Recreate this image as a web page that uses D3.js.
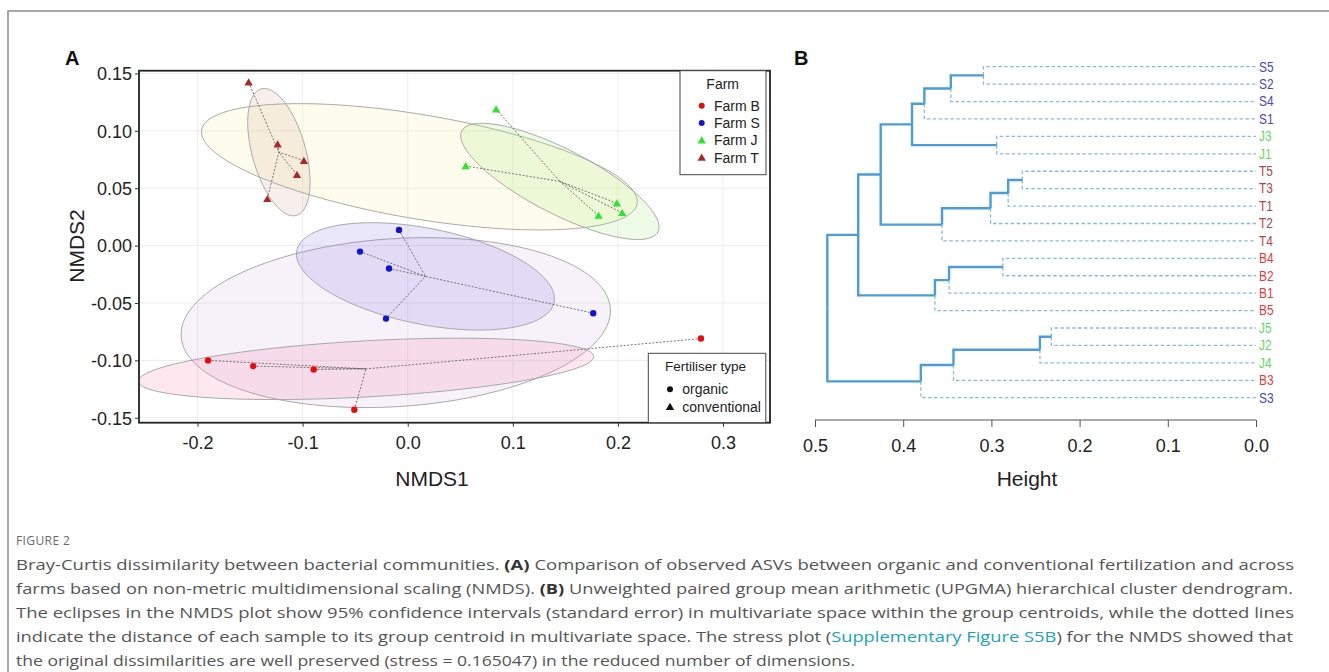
<!DOCTYPE html>
<html>
<head>
<meta charset="utf-8">
<script src="https://cdn.jsdelivr.net/npm/d3@7"></script>
<style>
body { margin: 0; background: #fff; }
svg { display: block; font-family: "Liberation Sans", Arial, sans-serif; }
</style>
</head>
<body>
<div id="fig"></div>
<script>
// ---------- panel A: NMDS scores ----------
var farmNames = ["Farm B", "Farm S", "Farm J", "Farm T"];
var farmColors = ["#e60d0d", "#1515c8", "#2ee32e", "#a32b2b"];
var farmFert = ["organic", "organic", "conventional", "conventional"];

var farmB = [[-0.190, -0.100], [-0.147, -0.105], [-0.0895, -0.108], [-0.0508, -0.143], [0.279, -0.081]];
var farmS = [[-0.0083, 0.0137], [-0.0454, -0.0052], [-0.0178, -0.020], [-0.0207, -0.0636], [0.1765, -0.0589]];
var farmJ = [[0.0841, 0.1188], [0.0552, 0.0694], [0.199, 0.0369], [0.1816, 0.0261], [0.204, 0.0285]];
var farmT = [[-0.1514, 0.1423], [-0.1238, 0.0883], [-0.0988, 0.074], [-0.1054, 0.0618], [-0.1336, 0.0407]];
var farmPoints = [farmB, farmS, farmJ, farmT];

var fertNames = ["organic", "conventional"];

// 95% SE ellipses: [major axis dx, dy, minor axis dx, dy] in NMDS units, centred on group centroid
var ellipseGroups = ["conventional", "organic", "Farm B", "Farm S", "Farm J", "Farm T"];
var ellipseAxes = [
  [0.2072, -0.0321, 0.0083, 0.0447],
  [0.2042, 0.0122, 0.0052, -0.0730],
  [0.2167, 0.0109, 0.0014, -0.0244],
  [0.1224, -0.0225, -0.0089, -0.0410],
  [0.0933, -0.0440, -0.0140, -0.0250],
  [0.0167, -0.0551, 0.0245, 0.0062]
];
var ellipseFills = ["rgba(250,240,160,0.2)", "rgba(205,170,225,0.17)", "rgba(245,130,165,0.18)",
  "rgba(130,115,225,0.17)", "rgba(170,235,130,0.2)", "rgba(205,160,140,0.17)"];

var xTicksA = [-0.2, -0.1, 0.0, 0.1, 0.2, 0.3];
var yTicksA = [-0.15, -0.10, -0.05, 0.00, 0.05, 0.10, 0.15];

// ---------- panel B: UPGMA dendrogram ----------
var leaves = ["S5", "S2", "S4", "S1", "J3", "J1", "T5", "T3", "T1", "T2", "T4",
  "B4", "B2", "B1", "B5", "J5", "J2", "J4", "B3", "S3"];
// merges like hclust: leaf label or (1-based) index of an earlier merge, then height
var merges = [
  ["S5", "S2", 0.309], [1, "S4", 0.346], [2, "S1", 0.376], ["J3", "J1", 0.294],
  [3, 4, 0.390], ["T5", "T3", 0.265], [6, "T1", 0.281], [7, "T2", 0.301],
  [8, "T4", 0.356], [5, 9, 0.4255], ["B4", "B2", 0.287], [11, "B1", 0.348],
  [12, "B5", 0.364], [10, 13, 0.451], ["J5", "J2", 0.232], [15, "J4", 0.245],
  [16, "B3", 0.343], [17, "S3", 0.380], [14, 18, 0.486]
];
var heightTicks = [0.5, 0.4, 0.3, 0.2, 0.1, 0.0];
var leafColors = {S: "#4a46c4", J: "#5fdc5f", T: "#b04646", B: "#e63c3c"};

var W = 1329, H = 672;
var svg = d3.select("#fig").append("svg").attr("width", W).attr("height", H);
svg.append("rect").attr("width", W).attr("height", H).attr("fill", "#fff");

// figure frame
svg.append("path").attr("d", "M8,672V11H1329").attr("fill", "none")
  .attr("stroke", "#8c8c8c").attr("stroke-width", 1.5);

// ================= panel A =================
var xA = d3.scaleLinear().domain([-0.2557, 0.3447]).range([139, 770]);
var yA = d3.scaleLinear().domain([-0.1543, 0.1524]).range([422.7, 70.7]);

svg.append("defs").append("clipPath").attr("id", "clipA")
  .append("rect").attr("x", 139).attr("y", 70.7).attr("width", 631).attr("height", 352);

var plotA = svg.append("g");

plotA.selectAll("line.gx").data(xTicksA).enter().append("line")
  .attr("x1", d => xA(d)).attr("x2", d => xA(d))
  .attr("y1", yA.range()[0]).attr("y2", yA.range()[1])
  .attr("stroke", "#ededed").attr("stroke-width", 1);
plotA.selectAll("line.gy").data(yTicksA).enter().append("line")
  .attr("y1", d => yA(d)).attr("y2", d => yA(d))
  .attr("x1", xA.range()[0]).attr("x2", xA.range()[1])
  .attr("stroke", "#ededed").attr("stroke-width", 1);

// centroids
function centroid(pts) {
  return [d3.mean(pts, p => p[0]), d3.mean(pts, p => p[1])];
}
var centers = {};
farmNames.forEach(function(f, i) { centers[f] = centroid(farmPoints[i]); });
fertNames.forEach(function(t) {
  var pts = [];
  farmNames.forEach(function(f, i) { if (farmFert[i] === t) pts = pts.concat(farmPoints[i]); });
  centers[t] = centroid(pts);
});

// ellipses
var ellipseLine = d3.line().x(d => xA(d[0])).y(d => yA(d[1])).curve(d3.curveLinearClosed);
var ellG = plotA.append("g").attr("clip-path", "url(#clipA)");
ellipseGroups.forEach(function(g, i) {
  var c = centers[g], a = ellipseAxes[i];
  var pts = d3.range(0, 120).map(function(k) {
    var t = k / 120 * 2 * Math.PI;
    return [c[0] + a[0] * Math.cos(t) + a[2] * Math.sin(t),
            c[1] + a[1] * Math.cos(t) + a[3] * Math.sin(t)];
  });
  ellG.append("path").attr("d", ellipseLine(pts))
    .attr("fill", ellipseFills[i]).attr("stroke", "#a0a0a0").attr("stroke-width", 0.9);
});

// spider lines to farm centroid
farmNames.forEach(function(f, i) {
  var c = centers[f];
  plotA.selectAll(null).data(farmPoints[i]).enter().append("line")
    .attr("x1", d => xA(d[0])).attr("y1", d => yA(d[1]))
    .attr("x2", xA(c[0])).attr("y2", yA(c[1]))
    .attr("stroke", "#555").attr("stroke-width", 0.8).attr("stroke-dasharray", "2,1.6");
});

// points
var tri = d3.symbol().type(d3.symbolTriangle).size(30);
farmNames.forEach(function(f, i) {
  var sel = plotA.selectAll(null).data(farmPoints[i]).enter();
  if (farmFert[i] === "organic") {
    sel.append("circle").attr("cx", d => xA(d[0])).attr("cy", d => yA(d[1]))
      .attr("r", 3.2).attr("fill", farmColors[i]);
  } else {
    sel.append("path").attr("d", tri)
      .attr("transform", d => `translate(${xA(d[0])},${yA(d[1]) + 0.8})`)
      .attr("fill", farmColors[i]);
  }
});

// panel border
plotA.append("rect").attr("x", 139).attr("y", 70.7).attr("width", 631).attr("height", 352)
  .attr("fill", "none").attr("stroke", "#222").attr("stroke-width", 1.8);

// legends
var legF = svg.append("g");
legF.append("rect").attr("x", 680).attr("y", 70.7).attr("width", 86).attr("height", 104)
  .attr("fill", "#fff").attr("stroke", "#444").attr("stroke-width", 1);
legF.append("text").attr("x", 722.7).attr("y", 83.5).attr("text-anchor", "middle")
  .attr("dominant-baseline", "central").attr("font-size", 14).attr("fill", "#222").text("Farm");
farmNames.forEach(function(f, i) {
  var y = 105.7 + i * 17.3;
  if (farmFert[i] === "organic") {
    legF.append("circle").attr("cx", 701.7).attr("cy", y).attr("r", 3).attr("fill", farmColors[i]);
  } else {
    legF.append("path").attr("d", tri).attr("transform", `translate(701.7,${y + 0.8})`)
      .attr("fill", farmColors[i]);
  }
  legF.append("text").attr("x", 714).attr("y", y).attr("dominant-baseline", "central")
    .attr("font-size", 14).attr("fill", "#222").text(f);
});

var legT = svg.append("g");
legT.append("rect").attr("x", 648.3).attr("y", 353.3).attr("width", 117.5).attr("height", 69.4)
  .attr("fill", "#fff").attr("stroke", "#444").attr("stroke-width", 1);
legT.append("text").attr("x", 665).attr("y", 366.5).attr("dominant-baseline", "central")
  .attr("font-size", 13.5).attr("fill", "#222").text("Fertiliser type");
fertNames.forEach(function(t, i) {
  var y = 389.3 + i * 17.4;
  if (t === "organic") {
    legT.append("circle").attr("cx", 670).attr("cy", y).attr("r", 3).attr("fill", "#111");
  } else {
    legT.append("path").attr("d", tri).attr("transform", `translate(670,${y + 0.8})`).attr("fill", "#111");
  }
  legT.append("text").attr("x", 682.3).attr("y", y).attr("dominant-baseline", "central")
    .attr("font-size", 14).attr("fill", "#222").text(t);
});

// axes A
var axXA = svg.append("g").attr("transform", "translate(0,422.7)")
  .call(d3.axisBottom(xA).tickValues(xTicksA).tickSize(4).tickPadding(10).tickFormat(d => d.toFixed(1)));
var axYA = svg.append("g").attr("transform", "translate(139,0)")
  .call(d3.axisLeft(yA).tickValues(yTicksA).tickSize(4).tickPadding(3).tickFormat(d => d.toFixed(2)));
[axXA, axYA].forEach(function(ax) {
  ax.select(".domain").remove();
  ax.selectAll("line").attr("stroke", "#333");
  ax.selectAll("text").attr("font-size", 18).attr("fill", "#222").attr("font-family", "Liberation Sans, Arial, sans-serif");
});
axYA.selectAll("text").attr("dy", "0.35em");

svg.append("text").attr("x", 432).attr("y", 478).attr("text-anchor", "middle")
  .attr("dominant-baseline", "central").attr("font-size", 21).attr("fill", "#222").text("NMDS1");
svg.append("text").attr("transform", "translate(76,246) rotate(-90)").attr("text-anchor", "middle")
  .attr("dominant-baseline", "central").attr("font-size", 21).attr("fill", "#222").text("NMDS2");

svg.append("text").attr("x", 65).attr("y", 58).attr("dominant-baseline", "central")
  .attr("font-size", 20).attr("font-weight", "bold").attr("fill", "#111").text("A");

// ================= panel B =================
var xB = d3.scaleLinear().domain([0.5, 0.0]).range([815, 1256]);
var yB = d3.scalePoint().domain(leaves).range([66.7, 397.7]);

var nodes = [];
function getNode(ref) {
  if (typeof ref === "string") return {name: ref, h: 0, y: yB(ref), leaf: true};
  return nodes[ref - 1];
}
merges.forEach(function(m) {
  var a = getNode(m[0]), b = getNode(m[1]);
  nodes.push({children: [a, b], h: m[2], y: (a.y + b.y) / 2, leaf: false});
});

var plotB = svg.append("g");
var leafEdges = [], innerEdges = [];
nodes.forEach(function(n) {
  n.children.forEach(function(c) {
    (c.leaf ? leafEdges : innerEdges).push({p: n, c: c});
  });
});
function edgePath(e) {
  return `M${xB(e.p.h)},${e.p.y}V${e.c.y}H${xB(e.c.h)}`;
}
plotB.selectAll("path.leafedge").data(leafEdges).enter().append("path")
  .attr("d", edgePath).attr("fill", "none")
  .attr("stroke", "#86bbdf").attr("stroke-width", 1.3).attr("stroke-dasharray", "3.5,2.4");
plotB.selectAll("path.inner").data(innerEdges).enter().append("path")
  .attr("d", edgePath).attr("fill", "none")
  .attr("stroke", "#4a9dd6").attr("stroke-width", 2.4);

// narrow leaf labels
plotB.selectAll("text.leaf").data(leaves).enter().append("text")
  .attr("transform", d => `translate(1259,${yB(d)}) scale(0.85,1)`)
  .attr("dominant-baseline", "central")
  .attr("font-size", 14).attr("fill", d => leafColors[d[0]]).text(d => d);

var axB = svg.append("g").attr("transform", "translate(0,420)")
  .call(d3.axisBottom(xB).tickValues(heightTicks).tickSize(7).tickPadding(12).tickFormat(d => d.toFixed(1)));
axB.select(".domain").attr("stroke", "#555").attr("d", `M${xB(0.5)},0H${xB(0)}`);
axB.selectAll("line").attr("stroke", "#555");
axB.selectAll("text").attr("font-size", 18).attr("fill", "#222").attr("font-family", "Liberation Sans, Arial, sans-serif");

svg.append("text").attr("x", 1027).attr("y", 478).attr("text-anchor", "middle")
  .attr("dominant-baseline", "central").attr("font-size", 21).attr("fill", "#222").text("Height");

svg.append("text").attr("x", 794).attr("y", 58).attr("dominant-baseline", "central")
  .attr("font-size", 20).attr("font-weight", "bold").attr("fill", "#111").text("B");

// ================= caption =================
svg.append("text").attr("x", 16).attr("y", 540).attr("dominant-baseline", "central")
  .attr("font-family", "'Open Sans', sans-serif").attr("font-size", 12).attr("letter-spacing", 0.4)
  .attr("fill", "#6a6a6a").text("FIGURE 2");

var captionLines = [
  [["Bray-Curtis dissimilarity between bacterial communities. ", ""], ["(A)", "b"],
   [" Comparison of observed ASVs between organic and conventional fertilization and across", ""]],
  [["farms based on non-metric multidimensional scaling (NMDS). ", ""], ["(B)", "b"],
   [" Unweighted paired group mean arithmetic (UPGMA) hierarchical cluster dendrogram.", ""]],
  [["The eclipses in the NMDS plot show 95% confidence intervals (standard error) in multivariate space within the group centroids, while the dotted lines", ""]],
  [["indicate the distance of each sample to its group centroid in multivariate space. The stress plot (", ""],
   ["Supplementary Figure S5B", "link"], [") for the NMDS showed that", ""]],
  [["the original dissimilarities are well preserved (stress = 0.165047) in the reduced number of dimensions.", ""]]
];
var captionWidths = [1278, 1277, 1278, 1277, 839];
captionLines.forEach(function(line, i) {
  var t = svg.append("text").attr("x", 16).attr("y", 564 + i * 24)
    .attr("dominant-baseline", "central")
    .attr("font-family", "'Open Sans', sans-serif").attr("font-size", 15).attr("fill", "#555")
    .attr("textLength", captionWidths[i]).attr("lengthAdjust", "spacingAndGlyphs");
  line.forEach(function(seg) {
    var s = t.append("tspan").text(seg[0]);
    if (seg[1] === "b") s.attr("font-weight", "bold").attr("fill", "#333");
    if (seg[1] === "link") s.attr("fill", "#1aa3b8");
  });
});
</script>
</body>
</html>
